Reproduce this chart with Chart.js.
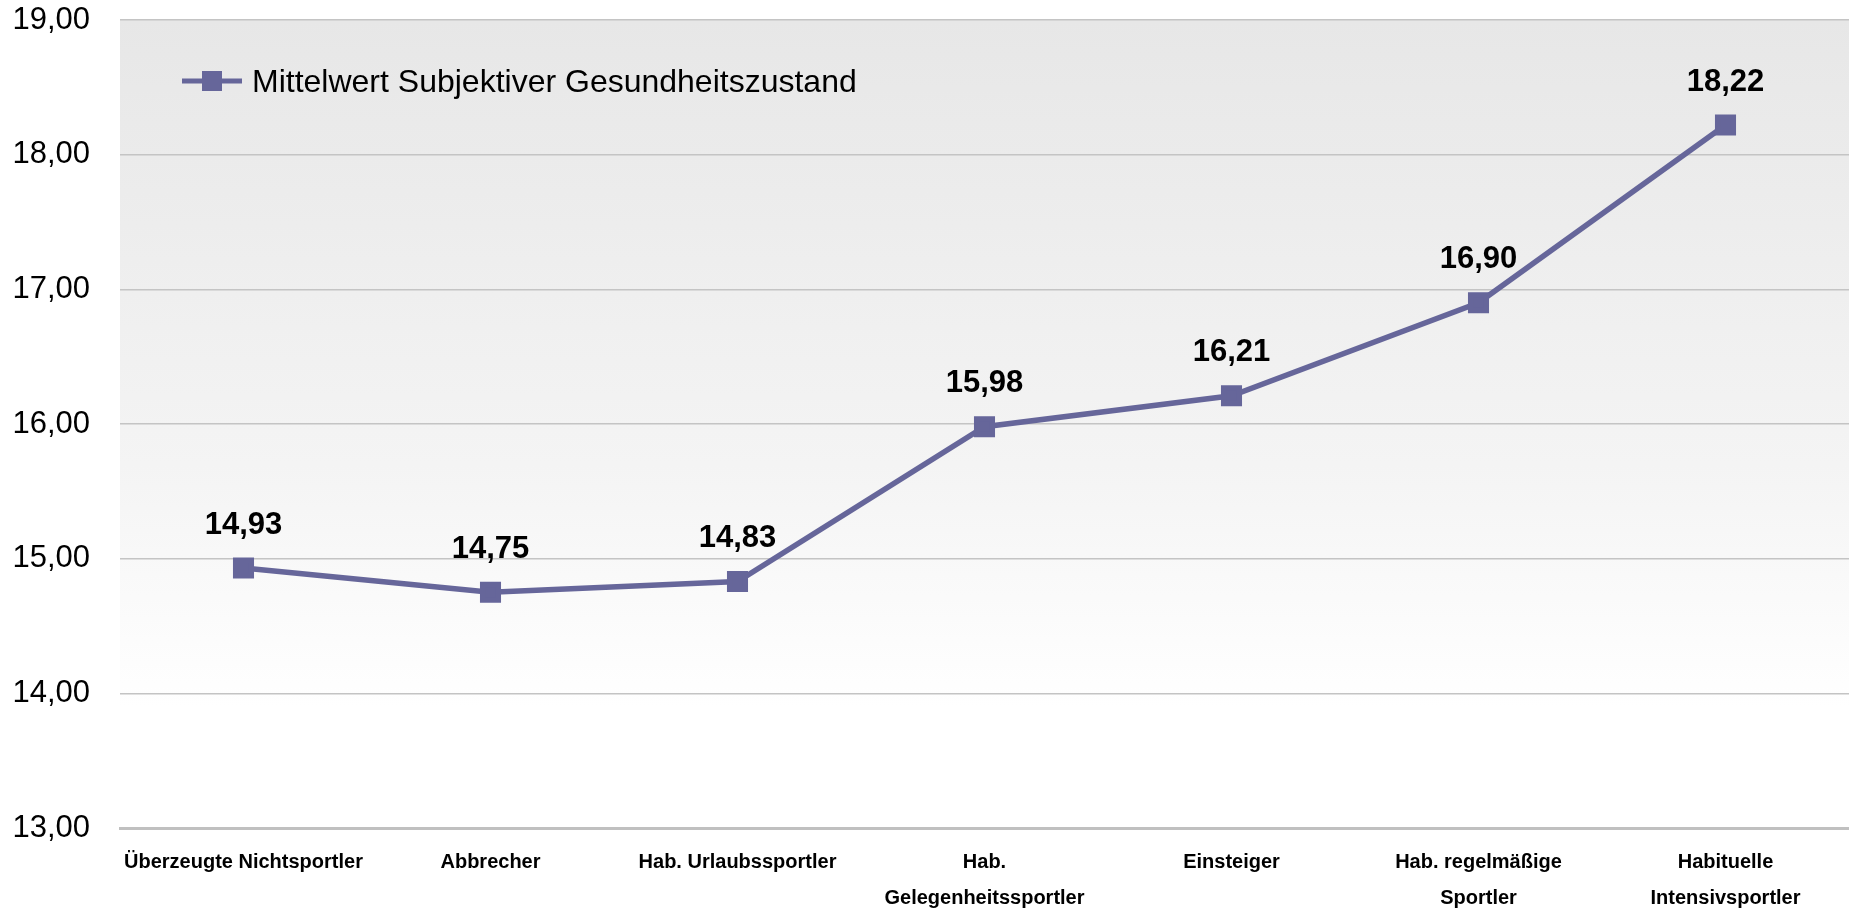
<!DOCTYPE html>
<html>
<head>
<meta charset="utf-8">
<script src="https://cdn.jsdelivr.net/npm/chart.js@4"></script>
<style>
  html, body { margin: 0; padding: 0; background: #fff; }
  #wrap { width: 1849px; height: 910px; }
</style>
</head>
<body>
<div id="wrap"><canvas id="chart" width="1849" height="910"></canvas></div>
<script>
// data
const categories = [
  "Überzeugte Nichtsportler",
  "Abbrecher",
  "Hab. Urlaubssportler",
  ["Hab.", "Gelegenheitssportler"],
  "Einsteiger",
  ["Hab. regelmäßige", "Sportler"],
  ["Habituelle", "Intensivsportler"]
]
const seriesName = "Mittelwert Subjektiver Gesundheitszustand"
const values = [14.93, 14.75, 14.83, 15.98, 16.21, 16.90, 18.22]
const yMin = 13
const yMax = 19

const lineColor = "#66669a"
const fontFam = "'Liberation Sans', Arial, sans-serif"

const fmt = (v) => v.toFixed(2).replace(".", ",")

// gray-to-white fill behind the plot
const bgPlugin = {
  id: "bg",
  beforeDraw(chart) {
    const { ctx, chartArea: a } = chart
    const g = ctx.createLinearGradient(0, a.top, 0, a.bottom)
    g.addColorStop(0, "#e7e7e7")
    g.addColorStop(0.55, "#f4f4f4")
    g.addColorStop(0.85, "#ffffff")
    g.addColorStop(1, "#ffffff")
    ctx.save()
    ctx.fillStyle = g
    ctx.fillRect(a.left, a.top, a.right - a.left, a.bottom - a.top)
    ctx.restore()
  }
}

// value labels above points + legend inside the plot
const labelPlugin = {
  id: "labels",
  afterDatasetsDraw(chart) {
    const ctx = chart.ctx
    const meta = chart.getDatasetMeta(0)
    ctx.save()
    ctx.font = "bold 31px " + fontFam
    ctx.fillStyle = "#000"
    ctx.textAlign = "center"
    ctx.textBaseline = "middle"
    meta.data.forEach((pt, i) => {
      ctx.fillText(fmt(values[i]), pt.x, pt.y - 43)
    })

    // legend
    const a = chart.chartArea
    const lx = a.left + 62, ly = a.top + 61
    ctx.strokeStyle = lineColor
    ctx.lineWidth = 5
    ctx.beginPath()
    ctx.moveTo(lx, ly)
    ctx.lineTo(lx + 60, ly)
    ctx.stroke()
    ctx.fillStyle = lineColor
    ctx.fillRect(lx + 20, ly - 10, 20, 20)
    ctx.fillStyle = "#000"
    ctx.textAlign = "left"
    ctx.font = "32px " + fontFam
    ctx.fillText(seriesName, lx + 70, ly + 2)
    ctx.restore()
  }
}

const chart = new Chart(document.getElementById("chart"), {
  type: "line",
  data: {
    labels: categories,
    datasets: [{
      label: seriesName,
      data: values,
      borderColor: lineColor,
      backgroundColor: lineColor,
      borderWidth: 5.5,
      pointStyle: "rect",
      pointRadius: 11,
      pointHoverRadius: 11,
      tension: 0,
      clip: false
    }]
  },
  options: {
    responsive: false,
    animation: false,
    devicePixelRatio: 1,
    layout: { autoPadding: false, padding: { top: 20, right: 0, left: 0, bottom: 0 } },
    plugins: {
      legend: { display: false },
      tooltip: { enabled: false }
    },
    scales: {
      x: {
        offset: true,
        grid: { display: false, drawTicks: false },
        border: { display: true, color: "#c0c0c0", width: 3 },
        ticks: {
          color: "#000",
          font: { family: fontFam, size: 20, weight: "bold", lineHeight: 1.8 },
          padding: 16,
          maxRotation: 0,
          autoSkip: false
        },
        afterFit(s) {
          s.height = 82
          s.paddingLeft = 0
          s.paddingRight = 0
        }
      },
      y: {
        min: yMin,
        max: yMax,
        grid: { color: "#c4c4c4", lineWidth: 1.5, drawTicks: false },
        border: { display: false },
        ticks: {
          stepSize: 1,
          color: "#000",
          font: { family: fontFam, size: 31 },
          padding: 30,
          callback: (v) => fmt(v)
        },
        afterFit(s) {
          s.width = 120
          s.paddingTop = 0
          s.paddingBottom = 0
        }
      }
    }
  },
  plugins: [bgPlugin, labelPlugin]
})
</script>
</body>
</html>
